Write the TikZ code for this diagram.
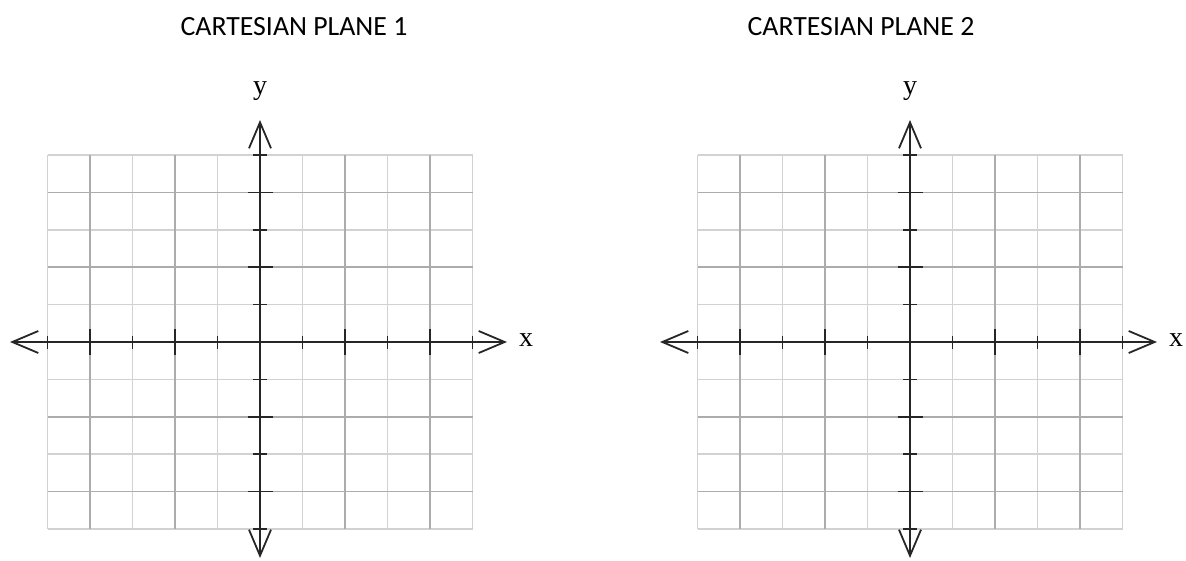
\documentclass[tikz,border=0pt]{standalone}
\usepackage{fontspec}
\setmainfont{Carlito}
\newfontfamily\axisfont{Liberation Serif}
\usetikzlibrary{arrows.meta}
\begin{document}
\begin{tikzpicture}
[x=1pt,y=-1pt,
  lightgrid/.style={draw=gray!35,line width=1.6pt},%
  darkgrid/.style={draw=gray!65,line width=1.6pt},%
  axisline/.style={{Straight Barb[length=26pt,width=22pt]}-{Straight Barb[length=26pt,width=22pt]},line width=1.8pt,draw=black!85},%
  tickmark/.style={line width=1.6pt,draw=black!85},%
  titletext/.style={font=\fontsize{27.8}{30}\selectfont},%
  axislabel/.style={font=\axisfont\fontsize{28}{30}\selectfont,inner sep=0pt}]
\useasboundingbox (0,0) rectangle (1186,561);
\foreach \p/\cx/\tx in {1/260/294, 2/910/861} {
  %% title
  \node (title\p) at (\tx,27) [titletext] {CARTESIAN PLANE \p};
  \begin{scope}[shift={(\cx,342)}]
    %% grid lines
    \foreach \i in {-5,-3,-1,1,3,5} {
      \draw[lightgrid] (42.5*\i,-187) -- (42.5*\i,187);
      \draw[lightgrid] (-212.5,37.4*\i) -- (212.5,37.4*\i);
    }
    \foreach \i in {-4,-2,2,4} {
      \draw[darkgrid] (42.5*\i,-187) -- (42.5*\i,187);
      \draw[darkgrid] (-212.5,37.4*\i) -- (212.5,37.4*\i);
    }
    %% axes ends
    \coordinate (xl\p) at (-250,0);
    \coordinate (xr\p) at (247,0);
    \coordinate (yt\p) at (0,-222);
    \coordinate (yb\p) at (0,216);
    %% tick marks
    \foreach \i in {-5,-3,-1,1,3,5} {
      \draw[tickmark] (42.5*\i,-6.5) -- (42.5*\i,6.5);
      \draw[tickmark] (-7,37.4*\i) -- (7,37.4*\i);
    }
    \foreach \i in {-4,-2,2,4} {
      \draw[tickmark] (42.5*\i,-13) -- (42.5*\i,13);
      \draw[tickmark] (-12.5,37.4*\i) -- (12.5,37.4*\i);
    }
    %% axes
    \draw[axisline] (xl\p) -- (xr\p);
    \draw[axisline] (yb\p) -- (yt\p);
    \node (xlabel\p) at (266,-2) [axislabel] {x};
    \node (ylabel\p) at (0,-251) [axislabel] {y};
  \end{scope}
}
\end{tikzpicture}
\end{document}
